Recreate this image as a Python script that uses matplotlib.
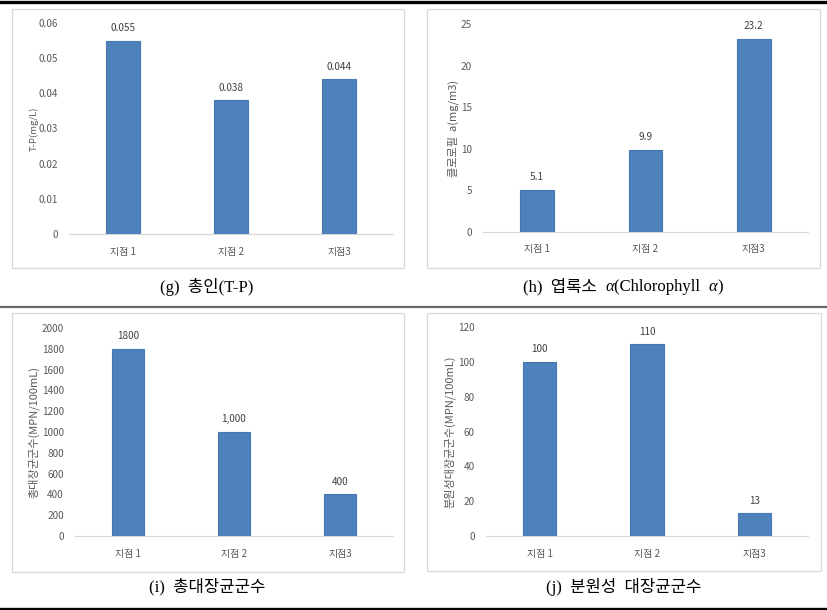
import matplotlib
matplotlib.use("Agg")
import matplotlib.pyplot as plt
from matplotlib.patches import Rectangle
from matplotlib.lines import Line2D

# ---------------- data ----------------
categories = ["지점 1", "지점 2", "지점3"]

tp_values = [0.055, 0.038, 0.044]
tp_labels = ["0.055", "0.038", "0.044"]
tp_ticks = [0, 0.01, 0.02, 0.03, 0.04, 0.05, 0.06]
tp_ticklabels = ["0", "0.01", "0.02", "0.03", "0.04", "0.05", "0.06"]

chl_values = [5.1, 9.9, 23.2]
chl_labels = ["5.1", "9.9", "23.2"]
chl_ticks = [0, 5, 10, 15, 20, 25]

tc_values = [1800, 1000, 400]
tc_labels = ["1800", "1,000", "400"]
tc_ticks = [0, 200, 400, 600, 800, 1000, 1200, 1400, 1600, 1800, 2000]

fc_values = [100, 110, 13]
fc_labels = ["100", "110", "13"]
fc_ticks = [0, 20, 40, 60, 80, 100, 120]

ylabels = ["T-P(mg/L)", "클로로필  a(mg/m3)", "총대장균군수(MPN/100mL)", "분원성대장균군수(MPN/100mL)"]

# ---------------- style ----------------
W, H = 827, 610
SANS = ["Noto Sans CJK KR", "DejaVu Sans"]
SERIF = ["Liberation Serif", "Noto Sans CJK KR", "DejaVu Sans"]
BAR = "#4F81BD"
BAR_EDGE = "#4677B0"
GRAY_TXT = "#595959"
LBL_TXT = "#404040"
BOX = "#D9D9D9"

plt.rcParams["font.family"] = SANS

fig = plt.figure(figsize=(W / 100, H / 100), dpi=100)
fig.patch.set_facecolor("white")


def fx(x):
    return x / W


def fy(y):
    return 1 - y / H


def add_box(x0, y0, x1, y1):
    fig.patches.append(Rectangle((fx(x0), fy(y1)), fx(x1) - fx(x0), fy(y0) - fy(y1),
                                 transform=fig.transFigure, facecolor="none",
                                 edgecolor=BOX, linewidth=0.9, zorder=0))


def hline(y, lw, color):
    fig.lines.append(Line2D([fx(0), fx(W)], [fy(y), fy(y)], transform=fig.transFigure,
                            color=color, linewidth=lw))


def panel(rect_px, values, labels, ticks, ticklabels, ylabel, labelx, ylsize):
    l, t, r, b = rect_px
    ax = fig.add_axes([fx(l), fy(b), fx(r) - fx(l), fy(t) - fy(b)])
    x = list(range(len(categories)))
    ax.bar(x, values, width=0.31, color=BAR, edgecolor=BAR_EDGE, linewidth=0.8, zorder=3)
    ax.set_xlim(-0.5, len(categories) - 0.5)
    ax.set_ylim(ticks[0], ticks[-1])
    ax.set_yticks(ticks)
    ax.set_yticklabels(ticklabels if ticklabels else [str(v) for v in ticks])
    ax.set_xticks(x)
    ax.set_xticklabels(categories)
    for s in ["top", "right", "left"]:
        ax.spines[s].set_visible(False)
    ax.spines["bottom"].set_color(BOX)
    ax.spines["bottom"].set_linewidth(0.9)
    ax.tick_params(axis="both", length=0, labelsize=7.2, colors=GRAY_TXT)
    ax.tick_params(axis="y", pad=8)
    ax.tick_params(axis="x", pad=9)
    ax.set_facecolor("none")
    ax.set_ylabel(ylabel, fontsize=ylsize, color=GRAY_TXT)
    ax.yaxis.set_label_coords(labelx, 0.5)
    for xi, v, lab in zip(x, values, labels):
        ax.annotate(lab, (xi, v), xytext=(0, 5.5), textcoords="offset points",
                    ha="center", va="bottom", fontsize=7.2, color=LBL_TXT)
    return ax


def caption(xc, yc, segments, size=12):
    renderer = fig.canvas.get_renderer()
    items = []
    total = 0.0
    for s, style in segments:
        t = fig.text(0, 0, s, fontsize=size, family=SERIF, style=style,
                     ha="left", va="center", color="black")
        w = t.get_window_extent(renderer).width
        items.append((t, w))
        total += w
    xpos = xc - total / 2
    for t, w in items:
        t.set_position((fx(xpos), fy(yc)))
        xpos += w


# frame lines
hline(1.5, 2.4, "black")
hline(307.5, 1.6, "#666666")
hline(608.5, 2.4, "black")

# chart boxes
add_box(12, 9, 404, 268)
add_box(427, 9, 820, 268)
add_box(12, 313, 404, 572)
add_box(427, 313, 821, 571)

panel((69, 23, 393, 234), tp_values, tp_labels, tp_ticks, tp_ticklabels, ylabels[0], -0.093, 6.8)
panel((483, 24, 808, 232), chl_values, chl_labels, chl_ticks, None, ylabels[1], -0.074, 8.0)
panel((75, 328, 393, 536), tc_values, tc_labels, tc_ticks, None, ylabels[2], -0.113, 8.0)
panel((486, 327, 808, 536), fc_values, fc_labels, fc_ticks, None, ylabels[3], -0.094, 8.0)

caption(207, 287, [("(g)  총인(T-P)", "normal")])
caption(623, 287, [("(h)  엽록소  ", "normal"), ("α", "italic"), ("(Chlorophyll  ", "normal"),
                   ("α", "italic"), (")", "normal")])
caption(207, 587, [("(i)  총대장균군수", "normal")])
caption(624, 587, [("(j)  분원성  대장균군수", "normal")])

fig.savefig("out.png", dpi=100)
